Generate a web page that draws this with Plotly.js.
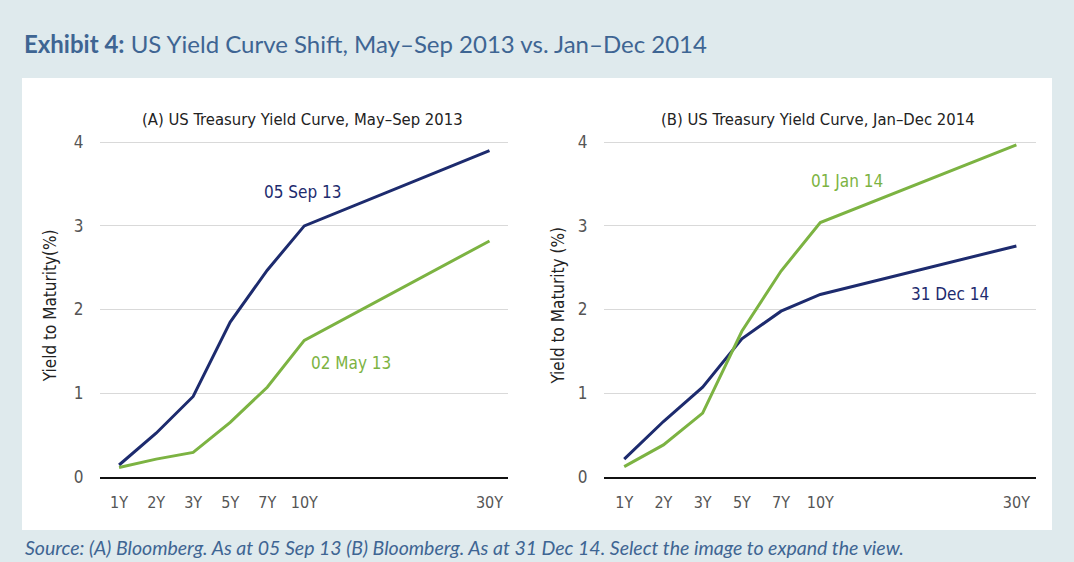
<!DOCTYPE html>
<html>
<head>
<meta charset="utf-8">
<script src="https://cdn.plot.ly/plotly-3.0.1.min.js"></script>
<style>
html,body{margin:0;padding:0;background:#dfeaed;}
#chart{width:1074px;height:562px;}
</style>
</head>
<body>
<div id="chart"></div>
<script>
// ---- data ----
const tenors = ['1Y', '2Y', '3Y', '5Y', '7Y', '10Y', '30Y'];
const tenorSlot = [0, 1, 2, 3, 4, 5, 10];   // horizontal slot of each tenor on the chart axis
const sep13 = [0.14, 0.52, 0.96, 1.85, 2.47, 3.00, 3.90];   // 05 Sep 13
const may13 = [0.11, 0.21, 0.29, 0.65, 1.07, 1.63, 2.82];   // 02 May 13
const jan14 = [0.12, 0.38, 0.76, 1.74, 2.46, 3.04, 3.97];   // 01 Jan 14
const dec14 = [0.21, 0.66, 1.07, 1.65, 1.98, 2.18, 2.76];   // 31 Dec 14
const yTicks = [0, 1, 2, 3, 4];

const NAVY = '#1d2b6e', GREEN = '#7cb342';
const COND = 'DejaVu Sans Condensed, Liberation Sans Narrow, sans-serif';
const W = 1074, H = 562;
const px = v => v / W, py = v => 1 - v / H;

const traces = [
  {x: tenorSlot, y: sep13, xaxis: 'x', yaxis: 'y', mode: 'lines', name: '05 Sep 13', line: {color: NAVY, width: 3}},
  {x: tenorSlot, y: may13, xaxis: 'x', yaxis: 'y', mode: 'lines', name: '02 May 13', line: {color: GREEN, width: 3}},
  {x: tenorSlot, y: dec14, xaxis: 'x2', yaxis: 'y2', mode: 'lines', name: '31 Dec 14', line: {color: NAVY, width: 3}},
  {x: tenorSlot, y: jan14, xaxis: 'x2', yaxis: 'y2', mode: 'lines', name: '01 Jan 14', line: {color: GREEN, width: 3}}
];

function xAxis(domain, anchor) {
  return {
    domain: domain, anchor: anchor, range: [-0.515, 10.5],
    tickmode: 'array', tickvals: tenorSlot, ticktext: tenors,
    showgrid: false, zeroline: false, showline: true, linecolor: '#111', linewidth: 2,
    ticks: 'outside', ticklen: 10, tickcolor: 'rgba(0,0,0,0)',
    tickfont: {family: COND, size: 16, color: '#555'}, fixedrange: true
  };
}
function yAxis(anchor, titleText, standoff) {
  return {
    domain: [py(476.7) , py(476.7 - 4.1 * 83.6)], anchor: anchor, range: [0, 4.1],
    tickmode: 'array', tickvals: yTicks,
    showgrid: true, gridcolor: '#d9d9d9', gridwidth: 1, zeroline: false, showline: false,
    ticks: 'outside', ticklen: 12, tickcolor: 'rgba(0,0,0,0)',
    tickfont: {family: COND, size: 17, color: '#555'},
    title: {text: titleText, font: {family: COND, size: 17, color: '#222'}, standoff: standoff},
    fixedrange: true
  };
}

const layout = {
  width: W, height: H,
  margin: {l: 0, r: 0, t: 0, b: 0},
  paper_bgcolor: '#dfeaed', plot_bgcolor: '#ffffff',
  showlegend: false,
  xaxis: xAxis([px(100), px(508)], 'y'),
  yaxis: yAxis('x', 'Yield to Maturity(%)', 12),
  xaxis2: xAxis([px(604), px(1036)], 'y2'),
  yaxis2: yAxis('x2', 'Yield to Maturity (%)', 8),
  shapes: [
    {type: 'rect', xref: 'paper', yref: 'paper', x0: px(22), x1: px(1052), y0: py(530), y1: py(78),
     fillcolor: '#ffffff', line: {width: 0}, layer: 'below'}
  ],
  annotations: [
    {xref: 'paper', yref: 'paper', x: px(22), y: py(44), xanchor: 'left', yanchor: 'middle', showarrow: false,
     text: '<b>Exhibit 4:</b> US Yield Curve Shift, May–Sep 2013 vs. Jan–Dec 2014',
     font: {family: 'Lato, sans-serif', size: 24, color: '#3e6593'}},
    {xref: 'paper', yref: 'paper', x: px(302), y: py(120), xanchor: 'center', yanchor: 'middle', showarrow: false,
     text: '(A) US Treasury Yield Curve, May–Sep 2013', font: {family: COND, size: 16.5, color: '#222'}},
    {xref: 'paper', yref: 'paper', x: px(818), y: py(120), xanchor: 'center', yanchor: 'middle', showarrow: false,
     text: '(B) US Treasury Yield Curve, Jan–Dec 2014', font: {family: COND, size: 16.5, color: '#222'}},
    {xref: 'x', yref: 'y', x: 4.94, y: 3.41, showarrow: false, text: '05 Sep 13', font: {family: COND, size: 17, color: NAVY}},
    {xref: 'x', yref: 'y', x: 6.27, y: 1.36, showarrow: false, text: '02 May 13', font: {family: COND, size: 17, color: GREEN}},
    {xref: 'x2', yref: 'y2', x: 5.67, y: 3.54, showarrow: false, text: '01 Jan 14', font: {family: COND, size: 17, color: GREEN}},
    {xref: 'x2', yref: 'y2', x: 8.30, y: 2.19, showarrow: false, text: '31 Dec 14', font: {family: COND, size: 17, color: NAVY}},
    {xref: 'paper', yref: 'paper', x: px(23), y: py(547), xanchor: 'left', yanchor: 'middle', showarrow: false,
     text: 'Source: (A) Bloomberg. As at 05 Sep 13 (B) Bloomberg. As at 31 Dec 14. Select the image to expand the view.',
     font: {family: 'Lato, sans-serif', size: 19.5, style: 'italic', color: '#3e6593'}}
  ]
};

Plotly.newPlot('chart', traces, layout, {displayModeBar: false, staticPlot: true});
</script>
</body>
</html>
